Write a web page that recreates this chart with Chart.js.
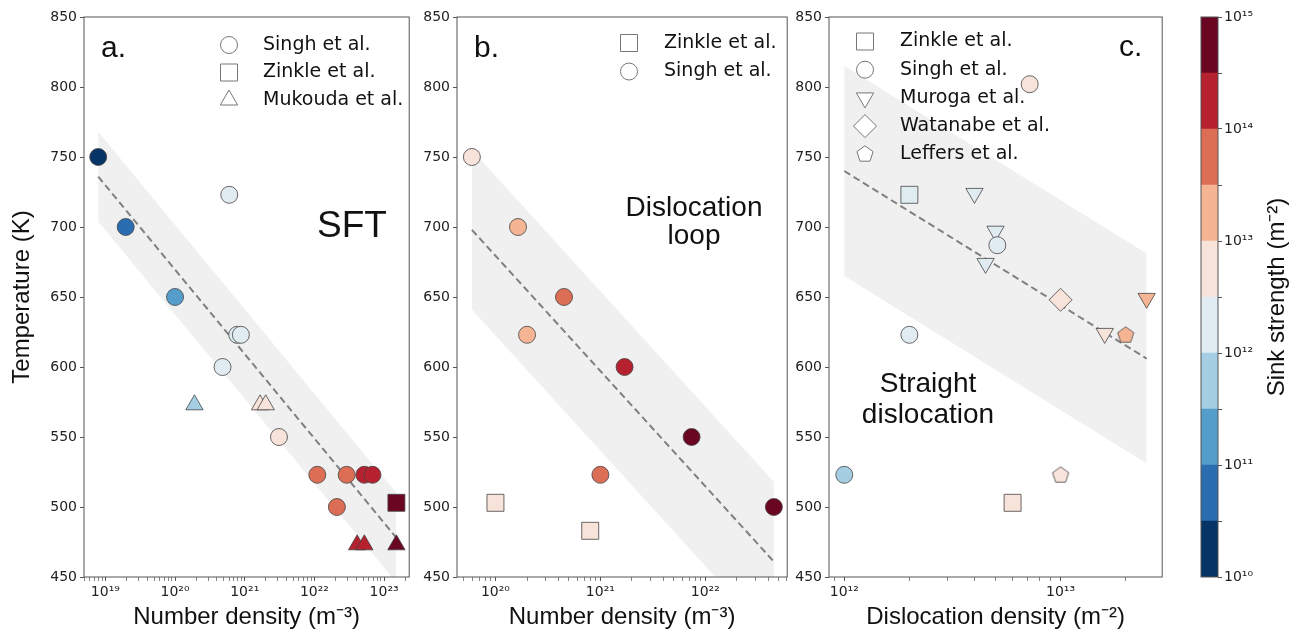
<!DOCTYPE html>
<html>
<head>
<meta charset="utf-8">
<script src="https://cdn.jsdelivr.net/npm/chart.js@4.4.0/dist/chart.umd.min.js"></script>
<style>
  html, body { margin: 0; padding: 0; background: #fff; }
  #wrap { position: relative; width: 1300px; height: 636px; overflow: hidden; }
  canvas { position: absolute; top: 0; }
</style>
</head>
<body>
<div id="wrap">
  <canvas id="chartA" width="422" height="636" style="left:0px"></canvas>
  <canvas id="chartB" width="379" height="636" style="left:421px"></canvas>
  <canvas id="chartC" width="382" height="636" style="left:793px"></canvas>
  <canvas id="chartBar" width="125" height="636" style="left:1175px"></canvas>
</div>
<script>
// colour scale: sink strength (m^-2), 10 log bins
var sinkEdges = [1e10, 3.16e10, 1e11, 3.16e11, 1e12, 3.16e12, 1e13, 3.16e13, 1e14, 3.16e14, 1e15];
var sinkColors = ['#073466', '#2a6db0', '#559ecb', '#a5cee3', '#e0ebf2', '#f8e3da', '#f5b494', '#dd6e56', '#b6212f', '#6a0622'];
var sinkMajors = [1e10, 1e11, 1e12, 1e13, 1e14, 1e15];
var sinkLabels = ['10¹⁰', '10¹¹', '10¹²', '10¹³', '10¹⁴', '10¹⁵'];

// a. SFT
var sftTicks = [1e19, 1e20, 1e21, 1e22, 1e23];
var sftTickLabels = ['10¹⁹', '10²⁰', '10²¹', '10²²', '10²³'];
var sftSinghN = [7.9e18, 1.96e19, 1.0e20, 6.0e20, 7.8e20, 8.8e20, 4.8e20, 3.1e21, 1.1e22, 2.9e22, 5.2e22, 6.8e22, 2.1e22];
var sftSinghT = [750, 700, 650, 723, 623, 623, 600, 550, 523, 523, 523, 523, 500];
var sftSinghS = [1.8e10, 5.6e10, 1.8e11, 1.8e12, 1.8e12, 1.8e12, 1.8e12, 5.6e12, 5.6e13, 5.6e13, 1.8e14, 1.8e14, 5.6e13];
var sftZinkleN = [1.5e23];
var sftZinkleT = [503];
var sftZinkleS = [5.6e14];
var sftMukoudaN = [1.9e20, 1.66e21, 2.0e21, 4.1e22, 5.2e22, 1.5e23];
var sftMukoudaT = [573, 573, 573, 473, 473, 473];
var sftMukoudaS = [5.6e11, 5.6e12, 5.6e12, 1.8e14, 1.8e14, 5.6e14];
var sftFitN = [7.9e18, 1.5e23];
var sftFitT = [736, 478];
var sftBandHigh = [768, 510];
var sftBandLow = [704, 446];

// b. dislocation loop
var loopTicks = [1e20, 1e21, 1e22];
var loopTickLabels = ['10²⁰', '10²¹', '10²²'];
var loopZinkleN = [1.0e20, 8.0e20];
var loopZinkleT = [503, 483];
var loopZinkleS = [5.6e12, 5.6e12];
var loopSinghN = [5.96e19, 1.64e20, 4.5e20, 2.0e20, 1.7e21, 7.4e21, 1.0e21, 4.5e22];
var loopSinghT = [750, 700, 650, 623, 600, 550, 523, 500];
var loopSinghS = [5.6e12, 1.8e13, 5.6e13, 1.8e13, 1.8e14, 5.6e14, 5.6e13, 5.6e14];
var loopFitN = [5.96e19, 4.5e22];
var loopFitT = [698, 461];
var loopBandHigh = [755, 518];
var loopBandLow = [641, 404];

// c. straight dislocation
var lineTicks = [1e12, 1e13];
var lineTickLabels = ['10¹²', '10¹³'];
var lineZinkleN = [2.0e12, 6.0e12];
var lineZinkleT = [723, 503];
var lineZinkleS = [1.8e12, 5.6e12];
var lineSinghN = [7.2e12, 5.1e12, 2.0e12, 1.0e12];
var lineSinghT = [802, 687, 623, 523];
var lineSinghS = [5.6e12, 1.8e12, 1.8e12, 5.6e11];
var lineMurogaN = [4.0e12, 5.0e12, 4.5e12, 1.6e13, 2.5e13];
var lineMurogaT = [724, 697, 674, 624, 649];
var lineMurogaS = [1.8e12, 1.8e12, 1.8e12, 5.6e12, 1.8e13];
var lineWatanabeN = [1.0e13];
var lineWatanabeT = [648];
var lineWatanabeS = [5.6e12];
var lineLeffersN = [2.0e13, 1.0e13];
var lineLeffersT = [623, 523];
var lineLeffersS = [1.8e13, 5.6e12];
var lineFitN = [1.0e12, 2.5e13];
var lineFitT = [740, 606];
var lineBandHigh = [815, 681];
var lineBandLow = [665, 531];

Chart.defaults.font.family = "'Liberation Sans', Arial, sans-serif";
Chart.defaults.color = '#222';
var tickFont = { family: "'DejaVu Sans', sans-serif", size: 14 };

function sinkColor(s) {
  for (var i = 0; i < sinkColors.length; i++) {
    if (s >= sinkEdges[i] && s < sinkEdges[i + 1]) return sinkColors[i];
  }
  return sinkColors[sinkColors.length - 1];
}

function shapePath(ctx, shape, x, y, r) {
  ctx.beginPath();
  if (shape === 'circle') {
    ctx.arc(x, y, r, 0, 2 * Math.PI);
  } else if (shape === 'square') {
    ctx.rect(x - r, y - r, 2 * r, 2 * r);
  } else {
    var n = { triangle: 3, down: 3, diamond: 4, pentagon: 5 }[shape];
    var a0 = shape === 'down' ? Math.PI / 2 : -Math.PI / 2;
    for (var k = 0; k < n; k++) {
      var a = a0 + 2 * Math.PI * k / n;
      if (k === 0) ctx.moveTo(x + r * Math.cos(a), y + r * Math.sin(a));
      else ctx.lineTo(x + r * Math.cos(a), y + r * Math.sin(a));
    }
  }
  ctx.closePath();
}

function pentagonImage(fill) {
  var c = document.createElement('canvas');
  c.width = 20; c.height = 20;
  var ctx = c.getContext('2d');
  shapePath(ctx, 'pentagon', 10, 10.5, 8.5);
  ctx.fillStyle = fill;
  ctx.fill();
  ctx.strokeStyle = '#444';
  ctx.lineWidth = 0.8;
  ctx.stroke();
  return c;
}

function pts(xs, ys) {
  return xs.map(function (x, i) { return { x: x, y: ys[i] }; });
}

function markers(label, xs, ys, sinks, style, radius, rotation) {
  var colors = sinks.map(sinkColor);
  return {
    label: label,
    type: 'scatter',
    data: pts(xs, ys),
    pointStyle: style === 'pentagon' ? colors.map(pentagonImage) : style,
    pointRadius: radius,
    pointRotation: rotation || 0,
    backgroundColor: colors,
    borderColor: '#444',
    borderWidth: 0.8,
    order: 0
  };
}

function bandSets(xs, fitT, hi, lo) {
  return [
    { type: 'line', data: pts(xs, fitT), borderColor: '#808080', borderWidth: 2, borderDash: [7, 4],
      pointRadius: 0, fill: false, order: 1 },
    { type: 'line', data: pts(xs, hi), borderWidth: 0, borderColor: 'rgba(0,0,0,0)', pointRadius: 0,
      fill: '+1', backgroundColor: '#f0f0f0', order: 2 },
    { type: 'line', data: pts(xs, lo), borderWidth: 0, borderColor: 'rgba(0,0,0,0)', pointRadius: 0,
      fill: false, order: 2 }
  ];
}

function logTicks(majors) {
  var out = [];
  [majors[0] / 10].concat(majors).forEach(function (b) {
    for (var m = 1; m <= 9; m++) out.push(m * b);
  });
  return out;
}

function majorLabel(majors, labels, v) {
  for (var k = 0; k < majors.length; k++) {
    if (Math.abs(majors[k] - v) / majors[k] < 1e-6) return labels[k];
  }
  return '';
}

function xAxis(min, max, majors, labels, title) {
  return {
    type: 'logarithmic', position: 'bottom', min: min, max: max,
    afterBuildTicks: function (s) {
      s.ticks = logTicks(majors).filter(function (v) { return v >= min && v <= max; })
        .map(function (v) { return { value: v }; });
    },
    afterFit: function (s) { s.height = 59; },
    ticks: {
      autoSkip: false, maxRotation: 0, minRotation: 0, padding: 3, color: '#222', font: tickFont,
      callback: function (v) { return majorLabel(majors, labels, v); }
    },
    grid: {
      drawOnChartArea: false, tickLength: 4, tickColor: '#555',
      tickWidth: function (c) { return majorLabel(majors, labels, c.tick.value) ? 1 : 0.7; }
    },
    border: { display: false },
    title: { display: true, text: title, color: '#111', font: { size: 24 }, padding: { top: 0, bottom: 4 } }
  };
}

function yAxis(width, showTitle) {
  return {
    type: 'linear', position: 'left', min: 450, max: 850,
    afterFit: function (s) { s.width = width; },
    ticks: { stepSize: 50, padding: 3, color: '#222', font: tickFont },
    grid: { drawOnChartArea: false, tickLength: 4, tickColor: '#555' },
    border: { display: false },
    title: { display: showTitle, text: 'Temperature (K)', color: '#111', font: { size: 24 }, padding: { top: 8, bottom: 0 } }
  };
}

// frame, legend and text notes
function decor(cfg) {
  return {
    id: 'decor',
    afterDraw: function (chart) {
      var ctx = chart.ctx, a = chart.chartArea;
      ctx.save();
      ctx.strokeStyle = '#555';
      ctx.lineWidth = 1;
      ctx.strokeRect(a.left, a.top, a.right - a.left, a.bottom - a.top);
      if (cfg.legend) {
        var L = cfg.legend;
        L.items.forEach(function (it, i) {
          var y = L.y + i * L.dy;
          shapePath(ctx, it[0], L.mx, y, { circle: 8.5, square: 8.5, triangle: 10, down: 10, diamond: 11.5, pentagon: 8.5 }[it[0]]);
          ctx.fillStyle = '#fff';
          ctx.fill();
          ctx.strokeStyle = '#777';
          ctx.lineWidth = 1;
          ctx.stroke();
          ctx.fillStyle = '#111';
          ctx.font = "19px 'DejaVu Sans', sans-serif";
          ctx.textAlign = 'left';
          ctx.textBaseline = 'middle';
          ctx.fillText(it[1], L.tx, y);
        });
      }
      (cfg.notes || []).forEach(function (n) {
        ctx.save();
        ctx.fillStyle = '#111';
        ctx.font = n.size + "px 'Liberation Sans', Arial, sans-serif";
        ctx.textAlign = n.align || 'left';
        ctx.textBaseline = n.baseline || 'alphabetic';
        ctx.translate(n.x, n.y);
        if (n.rotate) ctx.rotate(n.rotate);
        ctx.fillText(n.text, 0, 0);
        ctx.restore();
      });
      ctx.restore();
    }
  };
}

function baseOptions(scales, padding) {
  return {
    responsive: false, animation: false, events: [],
    layout: { padding: padding },
    plugins: { legend: { display: false }, tooltip: { enabled: false } },
    scales: scales
  };
}

new Chart(document.getElementById('chartA'), {
  type: 'scatter',
  data: {
    datasets: [
      markers('Singh et al.', sftSinghN, sftSinghT, sftSinghS, 'circle', 8.5),
      markers('Zinkle et al.', sftZinkleN, sftZinkleT, sftZinkleS, 'rect', 12),
      markers('Mukouda et al.', sftMukoudaN, sftMukoudaT, sftMukoudaS, 'triangle', 10)
    ].concat(bandSets(sftFitN, sftFitT, sftBandHigh, sftBandLow))
  },
  options: baseOptions({
    x: xAxis(4.94e18, 2.29e23, sftTicks, sftTickLabels, 'Number density (m⁻³)'),
    y: yAxis(84, true)
  }, { left: 0, top: 17, right: 2, bottom: 0 }),
  plugins: [decor({
    legend: { mx: 229, tx: 263, y: 45, dy: 27.5,
      items: [['circle', 'Singh et al.'], ['square', 'Zinkle et al.'], ['triangle', 'Mukouda et al.']] },
    notes: [
      { text: 'a.', x: 101, y: 57, size: 30 },
      { text: 'SFT', x: 352, y: 237, size: 37, align: 'center' }
    ]
  })]
});

new Chart(document.getElementById('chartB'), {
  type: 'scatter',
  data: {
    datasets: [
      markers('Zinkle et al.', loopZinkleN, loopZinkleT, loopZinkleS, 'rect', 12),
      markers('Singh et al.', loopSinghN, loopSinghT, loopSinghS, 'circle', 8.5)
    ].concat(bandSets(loopFitN, loopFitT, loopBandHigh, loopBandLow))
  },
  options: baseOptions({
    x: xAxis(4.3e19, 6.03e22, loopTicks, loopTickLabels, 'Number density (m⁻³)'),
    y: yAxis(36, false)
  }, { left: 0, top: 17, right: 8, bottom: 0 }),
  plugins: [decor({
    legend: { mx: 208, tx: 243, y: 43, dy: 28.5,
      items: [['square', 'Zinkle et al.'], ['circle', 'Singh et al.']] },
    notes: [
      { text: 'b.', x: 53, y: 57, size: 30 },
      { text: 'Dislocation', x: 273, y: 216, size: 28, align: 'center' },
      { text: 'loop', x: 273, y: 244, size: 28, align: 'center' }
    ]
  })]
});

new Chart(document.getElementById('chartC'), {
  type: 'scatter',
  data: {
    datasets: [
      markers('Zinkle et al.', lineZinkleN, lineZinkleT, lineZinkleS, 'rect', 12),
      markers('Singh et al.', lineSinghN, lineSinghT, lineSinghS, 'circle', 8.5),
      markers('Muroga et al.', lineMurogaN, lineMurogaT, lineMurogaS, 'triangle', 10, 180),
      markers('Watanabe et al.', lineWatanabeN, lineWatanabeT, lineWatanabeS, 'rectRot', 11.5),
      markers('Leffers et al.', lineLeffersN, lineLeffersT, lineLeffersS, 'pentagon', 8.5)
    ].concat(bandSets(lineFitN, lineFitT, lineBandHigh, lineBandLow))
  },
  options: baseOptions({
    x: xAxis(8.5e11, 2.95e13, lineTicks, lineTickLabels, 'Dislocation density (m⁻²)'),
    y: yAxis(36, false)
  }, { left: 0, top: 17, right: 9, bottom: 0 }),
  plugins: [decor({
    legend: { mx: 72, tx: 107, y: 41.5, dy: 28.2,
      items: [['square', 'Zinkle et al.'], ['circle', 'Singh et al.'], ['down', 'Muroga et al.'],
              ['diamond', 'Watanabe et al.'], ['pentagon', 'Leffers et al.']] },
    notes: [
      { text: 'c.', x: 326, y: 56, size: 30 },
      { text: 'Straight', x: 135, y: 392, size: 28, align: 'center' },
      { text: 'dislocation', x: 135, y: 423, size: 28, align: 'center' }
    ]
  })]
});

// colour bar
new Chart(document.getElementById('chartBar'), {
  type: 'bar',
  data: {
    labels: [''],
    datasets: sinkColors.map(function (c, i) {
      return { data: [[sinkEdges[i], sinkEdges[i + 1]]], backgroundColor: c, borderWidth: 0,
               grouped: false, barPercentage: 1, categoryPercentage: 1 };
    })
  },
  options: baseOptions({
    x: { display: false },
    y: {
      type: 'logarithmic', position: 'right', min: 1e10, max: 1e15,
      afterBuildTicks: function (s) { s.ticks = sinkEdges.map(function (v) { return { value: v }; }); },
      afterFit: function (s) { s.width = 82; },
      ticks: { autoSkip: false, padding: 2, color: '#222', font: tickFont,
        callback: function (v) { return majorLabel(sinkMajors, sinkLabels, v); } },
      grid: { drawOnChartArea: false, tickLength: 4, tickColor: '#555' },
      border: { display: false }
    }
  }, { left: 26, top: 17, right: 0, bottom: 59 }),
  plugins: [decor({
    notes: [
      { text: 'Sink strength (m⁻²)', x: 102, y: 297, size: 24, align: 'center', baseline: 'middle', rotate: -Math.PI / 2 }
    ]
  })]
});
</script>
</body>
</html>
